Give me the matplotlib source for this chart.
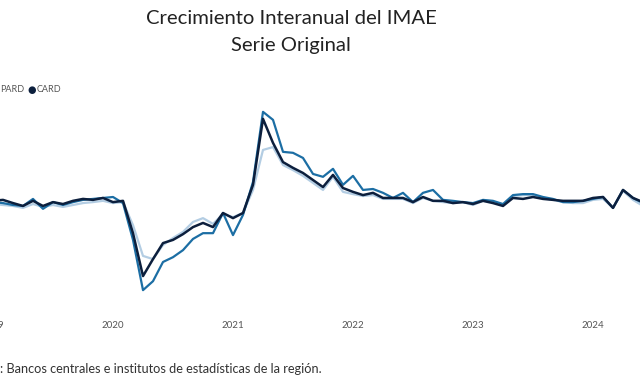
import numpy as np
import matplotlib
matplotlib.use("Agg")
import matplotlib.pyplot as plt

plt.rcParams['font.family'] = ['Lato', 'DejaVu Sans']

# monthly, Jan 2019 .. Jun 2024 (year-on-year growth, %)
years = ['2019', '2020', '2021', '2022', '2023', '2024']

card = [3.8, 4.1, 3.1, 2.2, 3.8, 2.2, 3.4, 2.8, 3.8, 4.4, 4.1, 4.7,
        3.4, 3.8, -6.3, -19.7, -14.4, -9.4, -8.4, -6.6, -4.4, -3.1, -4.4, 0.0,
        -1.6, 0.0, 8.8, 29.4, 21.9, 15.9, 14.1, 12.5, 10.3, 8.1, 11.9, 7.8,
        6.6, 5.6, 6.3, 4.7, 4.7, 4.7, 3.4, 5.0, 3.8, 3.8, 3.1, 3.4,
        2.8, 3.8, 3.1, 2.2, 4.7, 4.4, 5.0, 4.4, 4.1, 3.8, 3.8, 3.8,
        4.7, 5.0, 1.6, 7.2, 4.7, 3.4]

serie_media = [3.4, 3.1, 2.5, 2.2, 4.4, 1.3, 3.4, 2.5, 3.4, 4.1, 4.4, 4.7,
               5.0, 3.1, -8.4, -24.1, -21.3, -15.3, -13.8, -11.6, -8.1, -6.3, -6.3, 0.0,
               -6.9, -0.6, 9.7, 31.6, 29.1, 19.1, 18.8, 17.2, 12.2, 11.3, 13.8, 8.8,
               11.6, 7.2, 7.5, 6.3, 4.7, 6.3, 3.4, 6.3, 7.2, 4.1, 3.8, 3.4,
               3.1, 4.1, 3.8, 2.8, 5.6, 5.9, 5.9, 5.0, 4.4, 3.4, 3.4, 3.8,
               4.4, 5.0, 1.6, 7.2, 4.7, 3.1]

serie_clara = [2.8, 2.5, 2.2, 1.6, 2.8, 1.9, 2.5, 1.9, 2.5, 3.1, 3.4, 3.8,
               3.1, 3.4, -3.8, -13.4, -14.4, -10.0, -7.8, -5.9, -2.8, -1.6, -3.4, -0.3,
               -1.3, 0.0, 7.2, 19.7, 20.6, 15.0, 13.4, 11.6, 9.4, 7.2, 11.3, 6.6,
               5.9, 5.3, 5.6, 4.4, 4.4, 4.4, 3.1, 4.7, 3.8, 3.4, 3.1, 3.4,
               2.5, 3.8, 3.4, 2.5, 5.3, 5.6, 5.6, 4.7, 4.1, 3.4, 3.1, 3.1,
               4.1, 4.4, 1.6, 6.9, 4.1, 2.2]

months = np.arange(len(card))

fig = plt.figure(figsize=(6.4, 3.88), dpi=100)
ax = fig.add_axes([-20 / 640, 78 / 388, 660 / 640, 210 / 388])

ax.plot(months, serie_clara, color='#b3cde3', lw=1.6)
ax.plot(months, serie_media, color='#1c6ea4', lw=1.6)
ax.plot(months, card, color='#0c1f3d', lw=1.8)

ax.set_xlim(-1.3, 64.7)
ax.set_ylim(-30.3, 35.3)
ax.set_xticks(np.arange(len(years)) * 12)
ax.set_xticklabels(years)
ax.set_yticks([])
ax.tick_params(axis='x', length=0, pad=8, labelsize=7, labelcolor='#555555')
for s in ax.spines.values():
    s.set_visible(False)

fig.text(0.455, 1 - 18 / 388, 'Crecimiento Interanual del IMAE', ha='center', va='center',
         fontsize=14.6, color='#222222')
fig.text(0.455, 1 - 45 / 388, 'Serie Original', ha='center', va='center',
         fontsize=14.6, color='#222222')

# legend (left part cut off in the original)
fig.text(0.0, 1 - 90 / 388, 'PARD', ha='left', va='center', fontsize=6.5, color='#555555')
fig.text(27 / 640, 1 - 90 / 388, '\u25CF', ha='left', va='center', fontsize=7, color='#0c1f3d',
         family='DejaVu Sans')
fig.text(37 / 640, 1 - 90 / 388, 'CARD', ha='left', va='center', fontsize=6.5, color='#555555')

fig.text(0.0, 1 - 369 / 388, ': Bancos centrales e institutos de estadísticas de la región.',
         ha='left', va='center', fontsize=9.2, color='#333333')

fig.savefig('out.png', dpi=100)
